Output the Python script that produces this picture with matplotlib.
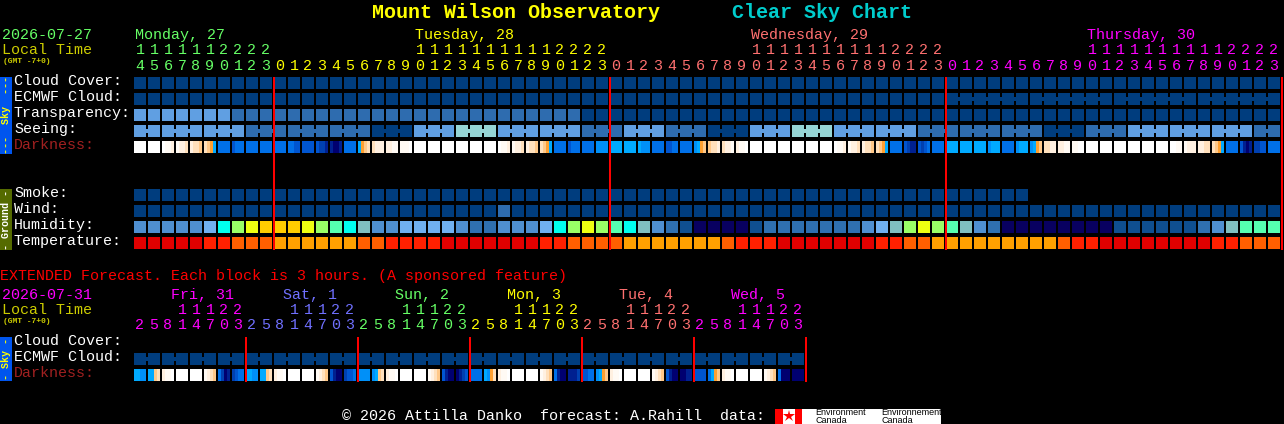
import matplotlib
matplotlib.use("Agg")
import matplotlib.pyplot as plt

# ---------- data ----------
scale_colors = {"n": "#003D7E", "m": "#2E6CAF", "l": "#609FE2", "t": "#96D5D5"}
cloud_cover = "n" * 82
ecmwf_cloud = "n" * 82
transparency = "l" * 7 + "m" * 25 + "n" * 50
seeing = ("l" * 8 + "m" * 9 + "n" * 3 + "l" * 3 + "t" * 3 + "l" * 6 + "m" * 3 + "l" * 3 + "m" * 3
          + "n" * 3 + "l" * 3 + "t" * 3 + "l" * 6 + "m" * 9 + "n" * 3 + "m" * 3 + "l" * 9 + "m" * 2)
smoke = "n" * 64
wind = "n" * 26 + "m" + "n" * 55

hum_colors = {"B": "#4F8FD0", "L": "#70B0F0", "C": "#00FFEE", "G": "#99FF66", "Y": "#EEFF11",
              "A": "#FFCC00", "M": "#55FFB0", "T": "#80BFC0", "D": "#2F70B0", "E": "#0F4F90", "N": "#080060"}
humidity = ("BBBBB L C G Y AAA Y G M C T BB LLLL B DD BBB L C G Y G M C T B D E NNNN E DDDDDDD "
            "B L T G Y G M T B D NNNNNNNN EEEEEE D B T MMM").replace(" ", "")

temp_colors = {"0": "#E00000", "1": "#FF2000", "2": "#FF5F00", "3": "#FFA000"}
temperature = ("00000 11 222 333333 22 1111 0000000 11 2222 3333333 2 111 0000000 11 22 "
               "333333333 2 11 00000000 11 222").replace(" ", "")

dark_colors = {"0": "#FFFFFF", "1": "#FFFAF4", "2": "#FFF0E0", "3": "#FFE0BC", "4": "#FFC888",
               "5": "#FFA030", "6": "#00AAFF", "7": "#0090F8", "8": "#0070E8", "9": "#0055D0",
               "a": "#0040B0", "b": "#002090", "c": "#000070"}
darkness = ["0000", "0000", "0112", "1223", "2334", "3456", "8888", "9888", "8888", "8888",
            "8888", "8899", "9999", "9aab", "bccb", "8888", "6543", "3222", "2211", "1110",
            "0000", "0000", "0000", "0000", "0000", "0000", "0112", "1223", "2334", "3456",
            "8888", "9888", "8888", "7777", "6666", "6666", "6777", "8888", "9988", "8888",
            "7654", "4332", "3221", "2110", "0000", "0000", "0000", "0000", "0000", "0000",
            "0112", "1223", "2334", "3456", "8888", "9abb", "9a98", "8888", "6666", "6666",
            "6666", "7666", "8888", "7666", "7654", "3322", "2211", "1100", "0000", "0000",
            "0000", "0000", "0000", "0000", "0011", "1222", "2233", "3456", "8888", "9bcb",
            "aa99", "8888"]

ext_darkness = ["6677", "6643", "2110", "0000", "0000", "1234", "8acb", "a988",
                "6677", "6643", "2110", "0000", "0000", "1234", "9bcc", "a998",
                "7777", "7643", "2110", "0000", "0000", "1234", "9bcc", "cba9",
                "8888", "6753", "2110", "0000", "0000", "1234", "8bcc", "bbba",
                "9988", "7654", "2110", "0000", "0000", "1234", "9bcc", "ccbb",
                "9999", "8654", "2110", "0000", "0000", "1234", "8ccc", "cccc"]
ext_ecmwf = "n" * 48

GREEN, YELLOW, SALMON, MAGENTA, PERI = "#66FF66", "#FFFF00", "#FF7070", "#FF00FF", "#7070FF"
OLIVE = "#CCCC00"
day_names = ["Monday, 27", "Tuesday, 28", "Wednesday, 29", "Thursday, 30"]
day_colors = [GREEN, YELLOW, SALMON, MAGENTA]
day_label_x = [135, 415, 751, 1087]
hour_start = 14
day_hour_colors = [GREEN] * 10 + [YELLOW] * 24 + [SALMON] * 24 + [MAGENTA] * 24
ext_days = [("Fri, 31", MAGENTA), ("Sat, 1", PERI), ("Sun, 2", GREEN), ("Mon, 3", YELLOW),
            ("Tue, 4", SALMON), ("Wed, 5", MAGENTA)]
ext_hours = [2, 5, 8, 11, 14, 17, 20, 23]

main_rows = ["Cloud Cover:", "ECMWF Cloud:", "Transparency:", "Seeing:", "Darkness:"]
ground_rows = ["Smoke:", "Wind:", "Humidity:", "Temperature:"]
ext_rows = ["Cloud Cover:", "ECMWF Cloud:", "Darkness:"]

# ---------- drawing ----------
fig = plt.figure(figsize=(12.84, 4.24), dpi=100, facecolor="black")
ax = fig.add_axes([0, 0, 1, 1])
ax.set_xlim(0, 1284)
ax.set_ylim(424, 0)
ax.axis("off")

X0, PITCH, W, H = 134, 14, 12, 12
MONO = "Liberation Mono"


def rect(x, y, w, h, c, z=2):
    ax.bar(x, h, width=w, bottom=y, align="edge", color=c, linewidth=0, antialiased=True,
           snap=False, zorder=z)


def txt(x, y, s, c, px=15, **kw):
    ax.text(x, y, s, color=c, fontsize=px * 0.72, family=kw.pop("family", MONO),
            va="baseline", ha=kw.pop("ha", "left"), zorder=5, **kw)


def row(values, colors, y, gap_rule=None):
    for i, v in enumerate(values):
        rect(X0 + i * PITCH, y, W, H, colors[v])
        if gap_rule and i + 1 < len(values) and gap_rule(i):
            rect(X0 + i * PITCH + W, y + 4, PITCH - W, H - 8, colors[v])


def strips(values, y):
    for i, block in enumerate(values):
        for k, v in enumerate(block):
            rect(X0 + i * PITCH + k * 3, y, 3, H, dark_colors[v])


# title
txt(372, 18, "Mount Wilson Observatory", "#FFFF00", px=20, fontweight="bold")
txt(732, 18, "Clear Sky Chart", "#00CCCC", px=20, fontweight="bold")

# main header
txt(2, 39, "2026-07-27", GREEN)
txt(2, 54, "Local Time", OLIVE)
txt(3, 63, "(GMT -7+0)", OLIVE, px=8, fontweight="bold")
for name, col, x in zip(day_names, day_colors, day_label_x):
    txt(x, 39, name, col)
for i, col in enumerate(day_hour_colors):
    hour = (hour_start + i) % 24
    cx = X0 + i * PITCH + 6
    if hour >= 10:
        txt(cx, 54, str(hour // 10), col, ha="center")
    txt(cx, 70, str(hour % 10), col, ha="center")

# main rows
row(cloud_cover, scale_colors, 77)
row(ecmwf_cloud, scale_colors, 93, lambda i: i >= 58 and (i + 1) % 6 != 4)
row(transparency, scale_colors, 109)
row(seeing, scale_colors, 125, lambda i: (i + 1) % 3 != 2)
strips(darkness, 141)
row(smoke, scale_colors, 189)
row(wind, scale_colors, 205)
row(humidity, hum_colors, 221)
row(temperature, temp_colors, 237)

for name, base in zip(main_rows, [85, 101, 117, 133, 149]):
    txt(14, base, name, "#A02020" if name == "Darkness:" else "white")
for name, base in zip(ground_rows, [197, 213, 229, 245]):
    txt(14, base, name, "white")

for k in range(4):
    rect(X0 + 140 + k * 336 - 1, 77, 2, 173, "#FF0000", z=3)

# side bars
rect(0, 77, 12, 77, "#0055EE")
rect(0, 189, 12, 61, "#556B00")
rect(0, 337, 12, 44, "#0055EE")
ax.text(6, 115.5, "---  Sky  ---", color="#FFFF00", fontsize=7.2, family=MONO, fontweight="bold",
        rotation=90, ha="center", va="center", zorder=5)
ax.text(6, 219.5, "- Ground -", color="white", fontsize=7.2, family=MONO, fontweight="bold",
        rotation=90, ha="center", va="center", zorder=5)
ax.text(6, 359, "- Sky -", color="#FFFF00", fontsize=7.2, family=MONO, fontweight="bold",
        rotation=90, ha="center", va="center", zorder=5)

# extended
txt(0, 280, "EXTENDED Forecast. Each block is 3 hours. (A sponsored feature)", "#FF0000")
txt(2, 299, "2026-07-31", MAGENTA)
txt(2, 314, "Local Time", OLIVE)
txt(3, 323, "(GMT -7+0)", OLIVE, px=8, fontweight="bold")
for d, (name, col) in enumerate(ext_days):
    txt(171 + d * 112, 299, name, col)
    for j, hour in enumerate(ext_hours):
        cx = X0 + (d * 8 + j) * PITCH + 6
        if hour >= 10:
            txt(cx, 314, str(hour // 10), col, ha="center")
        txt(cx, 329, str(hour % 10), col, ha="center")

row(ext_ecmwf, scale_colors, 353, lambda i: i % 2 == 0)
strips(ext_darkness, 369)
for name, base in zip(ext_rows, [345, 361, 377]):
    txt(14, base, name, "#A02020" if name == "Darkness:" else "white")
for k in range(1, 7):
    rect(X0 + k * 112 - 1, 337, 2, 45, "#FF0000", z=3)

# footer
txt(342, 420, "\u00a9 2026 Attilla Danko  forecast: A.Rahill  data:", "white")
rect(775, 409, 166, 15, "white")
rect(775, 409, 8, 15, "#FF0000", z=3)
rect(795, 409, 7, 15, "#FF0000", z=3)
ax.plot([789], [416], marker="*", color="#FF0000", markersize=9, markeredgewidth=0, zorder=4)
for x, line1 in [(815, "Environment"), (881, "Environnement")]:
    txt(x, 415, line1, "black", px=9, family="Liberation Sans")
    txt(x, 423, "Canada", "black", px=9, family="Liberation Sans")

fig.savefig("out.png", dpi=100, facecolor="black")
